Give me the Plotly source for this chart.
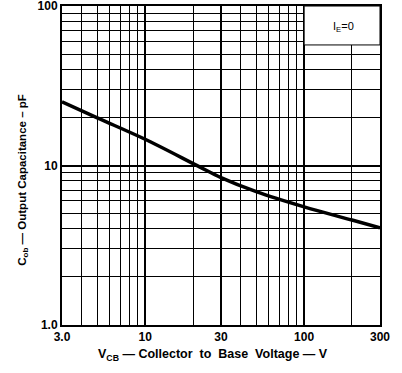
import plotly.graph_objects as go

# Data
vcb = [3, 5, 10, 22, 30, 50, 100, 200, 300]
cob = [25.1, 19.9, 14.6, 9.8, 8.4, 6.85, 5.5, 4.55, 4.06]

x_ticks = [3, 10, 30, 100, 300]
x_ticktext = ["3.0", "10", "30", "100", "300"]
x_minor = [4, 5, 6, 7, 8, 9, 20, 40, 50, 60, 70, 80, 90, 200]
y_ticks = [1, 10, 100]
y_ticktext = ["1.0", "10", "100"]
y_minor = [2, 3, 4, 5, 6, 7, 8, 9, 20, 30, 40, 50, 60, 70, 80, 90]

FONT = "Liberation Sans, Arial, sans-serif"
NB = "\u00a0"

fig = go.Figure()
fig.add_trace(go.Scatter(x=vcb, y=cob, mode="lines",
                         line=dict(color="black", width=3.5, shape="spline"),
                         showlegend=False, hoverinfo="skip"))

# white label box at upper right
fig.add_shape(type="rect", xref="x", yref="y", x0=100, x1=300, y0=57, y1=100,
              fillcolor="white", line=dict(color="black", width=1), layer="above")
fig.add_annotation(x=2.25, y=1.868, xref="x", yref="y", text="I<sub>E</sub>=0",
                   showarrow=False, font=dict(family=FONT, size=11, color="black"))

# axis titles
fig.add_annotation(x=0.475, y=-0.094, xref="paper", yref="paper",
                   text=f"V<sub>CB</sub>{NB}\u2014 Collector{NB} to{NB} Base{NB} Voltage{NB}\u2014{NB}V",
                   showarrow=False,
                   font=dict(family=FONT, size=12.5, color="black", weight="bold"),
                   xanchor="center", yanchor="middle")
fig.add_annotation(x=-0.123, y=0.455, xref="paper", yref="paper",
                   text="C<sub>ob</sub> \u2014 Output Capacitance \u2013 pF",
                   showarrow=False,
                   font=dict(family=FONT, size=11.5, color="black", weight="bold"),
                   textangle=-90, xanchor="center", yanchor="middle")

fig.update_xaxes(type="log", range=[0.4771, 2.4772],
                 tickmode="array", tickvals=x_ticks, ticktext=x_ticktext,
                 showgrid=True, gridcolor="black", gridwidth=1.5,
                 minor=dict(tickmode="array", tickvals=x_minor, showgrid=True,
                            gridcolor="black", gridwidth=1, ticks=""),
                 showline=True, linecolor="black", linewidth=2, mirror=True,
                 ticks="", automargin=False, ticklabeloverflow="allow",
                 tickfont=dict(family=FONT, size=12, color="black", weight="bold"),
                 zeroline=False)
fig.update_yaxes(type="log", range=[-0.0001, 2.0001],
                 tickmode="array", tickvals=y_ticks, ticktext=y_ticktext,
                 showgrid=True, gridcolor="black", gridwidth=1.5,
                 minor=dict(tickmode="array", tickvals=y_minor, showgrid=True,
                            gridcolor="black", gridwidth=1, ticks=""),
                 showline=True, linecolor="black", linewidth=2, mirror=True,
                 ticks="", automargin=False, ticklabeloverflow="allow",
                 tickfont=dict(family=FONT, size=12, color="black", weight="bold"),
                 zeroline=False)

fig.update_layout(width=402, height=373,
                  margin=dict(l=62, r=22, t=6, b=48, autoexpand=False),
                  paper_bgcolor="white", plot_bgcolor="white",
                  showlegend=False)

fig.write_html("out.html")
